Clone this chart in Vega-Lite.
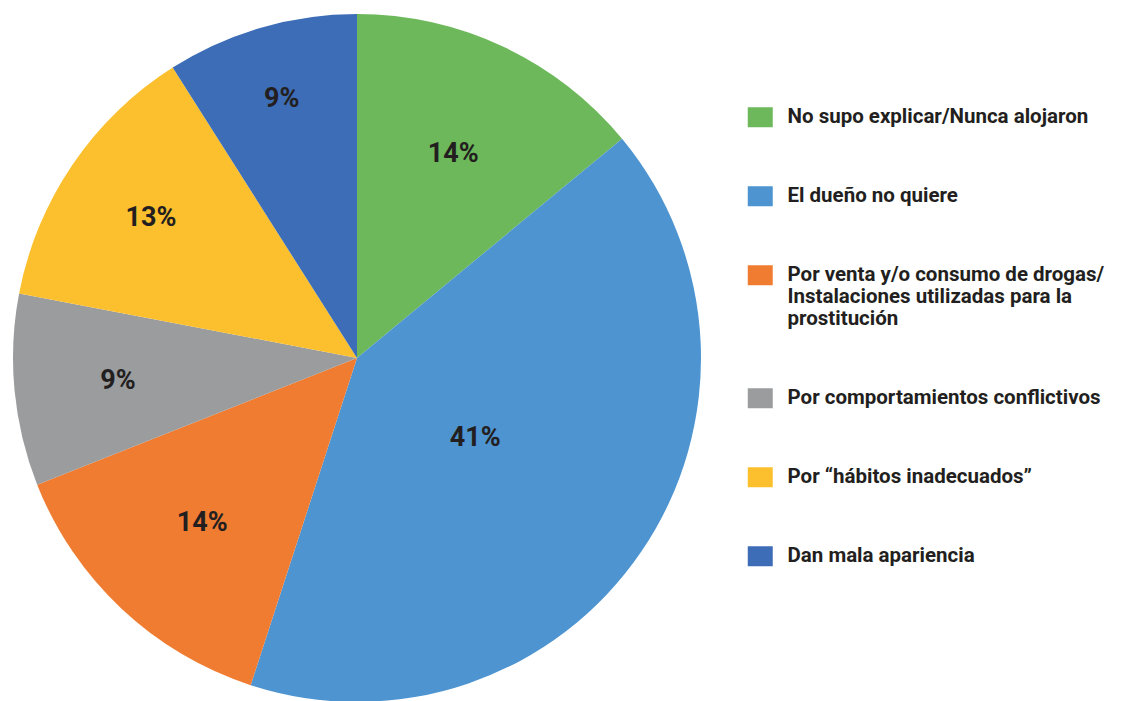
{
  "$schema": "https://vega.github.io/schema/vega-lite/v6.json",
  "width": 714,
  "height": 716,
  "padding": 0,
  "autosize": {"type": "pad"},
  "background": "white",
  "view": {"stroke": null},
  "config": {"style": {"guide-label": {"lineHeight": 22}}},
  "data": {
    "values": [
      {"categoria": "No supo explicar/Nunca alojaron", "valor": 14, "etiqueta": "14%", "orden": 1},
      {"categoria": "El dueño no quiere", "valor": 41, "etiqueta": "41%", "orden": 2},
      {"categoria": "Por venta y/o consumo de drogas/ Instalaciones utilizadas para la prostitución", "valor": 14, "etiqueta": "14%", "orden": 3},
      {"categoria": "Por comportamientos conflictivos", "valor": 9, "etiqueta": "9%", "orden": 4},
      {"categoria": "Por “hábitos inadecuados”", "valor": 13, "etiqueta": "13%", "orden": 5},
      {"categoria": "Dan mala apariencia", "valor": 9, "etiqueta": "9%", "orden": 6}
    ]
  },
  "encoding": {
    "theta": {"field": "valor", "type": "quantitative", "stack": true},
    "order": {"field": "orden", "type": "quantitative"}
  },
  "layer": [
    {
      "mark": {"type": "arc", "outerRadius": 344, "strokeWidth": 0},
      "encoding": {
        "color": {
          "field": "categoria",
          "type": "nominal",
          "scale": {
            "domain": [
              "No supo explicar/Nunca alojaron",
              "El dueño no quiere",
              "Por venta y/o consumo de drogas/ Instalaciones utilizadas para la prostitución",
              "Por comportamientos conflictivos",
              "Por “hábitos inadecuados”",
              "Dan mala apariencia"
            ],
            "range": ["#6cb85a", "#4d94d0", "#f07c32", "#9a9c9e", "#fcc02e", "#3d6db6"]
          },
          "legend": {
            "title": null,
            "orient": "none",
            "legendX": 750,
            "legendY": 107,
            "symbolType": "M-1.25,-1H1.25V1H-1.25Z",
            "symbolSize": 400,
            "symbolStrokeWidth": 0,
            "labelFont": "Roboto",
            "labelFontWeight": "bold",
            "labelFontSize": 20.5,
            "labelColor": "#231f20",
            "labelOffset": 17,
            "labelLimit": 500,
            "rowPadding": 58,
            "labelExpr": "datum.label == 'Por venta y/o consumo de drogas/ Instalaciones utilizadas para la prostitución' ? ['Por venta y/o consumo de drogas/', 'Instalaciones utilizadas para la', 'prostitución'] : datum.label"
          }
        }
      }
    },
    {
      "mark": {"type": "text", "font": "Roboto", "fontWeight": "bold", "fontSize": 27, "color": "#231f20", "align": "center", "baseline": "middle"},
      "encoding": {
        "text": {"field": "etiqueta", "type": "nominal"},
        "radius": {"value": {"expr": "datum.orden == 2 ? 143 : datum.orden == 6 ? 270 : datum.orden == 5 ? 249 : datum.orden == 4 ? 240 : 226"}}
      }
    }
  ]
}
